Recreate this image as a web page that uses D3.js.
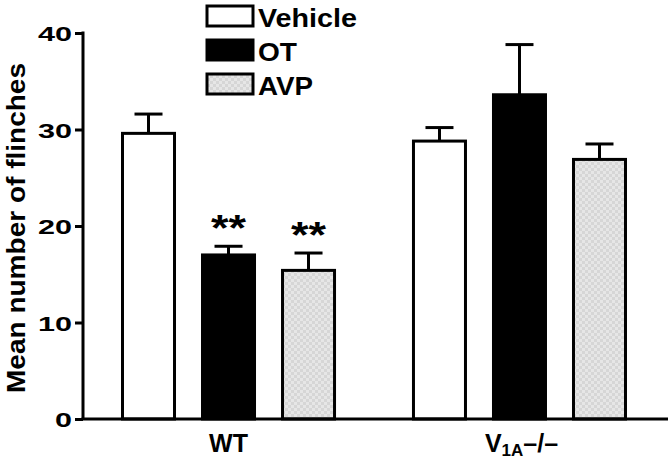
<!DOCTYPE html>
<html><head><meta charset="utf-8">
<script src="https://cdn.jsdelivr.net/npm/d3@7"></script>
<style>body{margin:0;background:#fff}svg{display:block}text{font-family:"Liberation Sans",Arial,sans-serif;font-weight:bold}</style>
</head><body><svg id="c" width="670" height="466"></svg>
<script>
const groups = ["WT", "V1A"];
const treatments = ["Vehicle", "OT", "AVP"];
const wtValues = [29.6, 17.0, 15.4];
const wtErrors = [2.0, 0.9, 1.8];
const v1aValues = [28.8, 33.6, 26.9];
const v1aErrors = [1.4, 5.2, 1.6];
const yTicks = [0, 10, 20, 30, 40];
const signif = [["WT", "OT", "**"], ["WT", "AVP", "**"]];

const svg = d3.select("#c");
const defs = svg.append("defs");
const pat = defs.append("pattern").attr("id","chk").attr("patternUnits","userSpaceOnUse").attr("width",6).attr("height",6);
pat.append("rect").attr("width",6).attr("height",6).attr("fill","#d6d6d6");
pat.append("rect").attr("width",3).attr("height",3).attr("fill","#e6e6e6");
pat.append("rect").attr("x",3).attr("y",3).attr("width",3).attr("height",3).attr("fill","#e6e6e6");
const fills = {Vehicle:"#fff", OT:"#000", AVP:"url(#chk)"};

const y = d3.scaleLinear().domain([0,40]).range([419,33]);
const x0 = d3.scaleBand().domain(groups).range([121,627]).paddingInner(0.261).paddingOuter(0);
const x1 = d3.scaleBand().domain(treatments).range([0, x0.bandwidth()]).paddingInner(0.3125);

const data = [];
groups.forEach(g => treatments.forEach((t,i) => {
  data.push({g, t, v: g==="WT"?wtValues[i]:v1aValues[i], e: g==="WT"?wtErrors[i]:v1aErrors[i]});
}));

// error bars
const eb = svg.append("g").attr("stroke","#000").attr("stroke-width",3);
data.forEach(d => {
  const cx = x0(d.g) + x1(d.t) + x1.bandwidth()/2;
  eb.append("line").attr("x1",cx).attr("x2",cx).attr("y1",y(d.v)).attr("y2",y(d.v+d.e));
  eb.append("line").attr("x1",cx-14).attr("x2",cx+14).attr("y1",y(d.v+d.e)).attr("y2",y(d.v+d.e));
});

// bars
svg.append("g").selectAll("rect").data(data).join("rect")
  .attr("x", d => x0(d.g)+x1(d.t)+1.5)
  .attr("y", d => y(d.v))
  .attr("width", x1.bandwidth()-3)
  .attr("height", d => y(0)-y(d.v))
  .attr("fill", d => fills[d.t])
  .attr("stroke","#000").attr("stroke-width",3);

// significance
signif.forEach(([g,t,s]) => {
  const d = data.find(o => o.g===g && o.t===t);
  const cx = x0(g)+x1(t)+x1.bandwidth()/2;
  svg.append("text").attr("x",cx).attr("y",y(d.v+d.e)-5).attr("text-anchor","middle")
    .attr("font-size",36).attr("textLength",35).attr("lengthAdjust","spacingAndGlyphs").text(s);
});

// y axis
const ya = svg.append("g").attr("transform","translate(83,0)")
  .call(d3.axisLeft(y).tickValues(yTicks).tickSize(8).tickPadding(3));
ya.select(".domain").attr("stroke-width",3).attr("d","M0,"+(y(40)-1.5)+"V"+y(0));
ya.selectAll(".tick line").attr("stroke-width",3);
ya.selectAll(".tick text").attr("font-size",21).attr("fill","#000").attr("dy","0.36em")
  .attr("textLength", d => String(d).length*17).attr("lengthAdjust","spacingAndGlyphs");

// x baseline
svg.append("line").attr("x1",81.5).attr("x2",668).attr("y1",y(0)).attr("y2",y(0)).attr("stroke","#000").attr("stroke-width",3);

// x labels
svg.append("text").attr("x", x0("WT")+x0.bandwidth()/2).attr("y",452).attr("text-anchor","middle").attr("font-size",25).text("WT");
const vl = svg.append("text").attr("x", x0("V1A")+x0.bandwidth()/2+2).attr("y",452).attr("text-anchor","middle").attr("font-size",25);
vl.append("tspan").text("V");
vl.append("tspan").attr("font-size",17).attr("dy",4).text("1A");
vl.append("tspan").attr("dy",-4).text("\u2013/\u2013");

// y label
svg.append("text").attr("transform","translate(25,"+((y(0)+y(40))/2+2)+") rotate(-90)")
  .attr("text-anchor","middle").attr("font-size",25).attr("textLength",330).attr("lengthAdjust","spacingAndGlyphs")
  .text("Mean number of flinches");

// legend
const lg = svg.append("g");
const legLen = {Vehicle:99, OT:39, AVP:55};
treatments.forEach((t,i) => {
  const yy = 6 + i*34;
  lg.append("rect").attr("x",207).attr("y",yy).attr("width",46).attr("height",20)
    .attr("fill",fills[t]).attr("stroke","#000").attr("stroke-width",3);
  lg.append("text").attr("x",258).attr("y",yy+21).attr("font-size",26)
    .attr("textLength",legLen[t]).attr("lengthAdjust","spacingAndGlyphs").text(t);
});
</script></body></html>
